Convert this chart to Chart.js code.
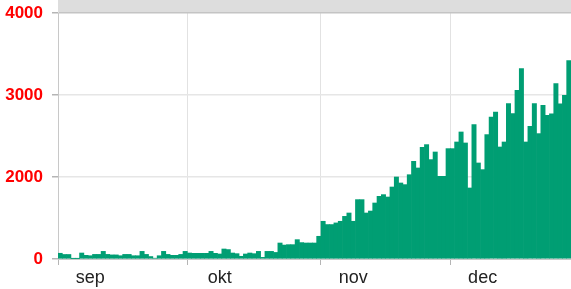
<!DOCTYPE html>
<html lang="da">
<head>
	<meta charset="UTF-8">
	<title>Daglige tal</title>
	<style>
		body { margin: 0; background: #fff; }
		canvas { display: block; }
	</style>
</head>
<body>
	<canvas id="myChart" width="571" height="289"></canvas>

	<script src="https://cdn.jsdelivr.net/npm/chart.js@4"></script>
	<script>
		// one bar per day, 1 sep - 28 dec
		var monthNames = ['sep', 'okt', 'nov', 'dec'];
		var monthDays = [30, 31, 30, 28];
		var monthStart = [0, 30, 61, 91];   // index of the 1st of each month
		var monthLabelAt = [7, 37, 68, 98]; // month name sits under the 8th

		var yTickLabels = ['0', '2000', '3000', '4000'];

		var sepValues = [70, 55, 55, 5, 5, 73, 45, 40, 56, 56, 93, 56, 50, 50, 40,
			56, 56, 40, 40, 93, 56, 30, 10, 40, 93, 56, 45, 45, 56, 93];
		var oktValues = [73, 69, 69, 69, 69, 93, 69, 61, 122, 115, 73, 65, 33, 61, 73,
			65, 93, 20, 93, 93, 80, 195, 170, 175, 175, 236, 200, 195, 195, 195, 277];
		var novValues = [460, 420, 420, 440, 460, 520, 561, 460, 724, 724, 561, 585, 683, 764, 785,
			756, 878, 1000, 927, 907, 1028, 1191, 1110, 1362, 1395, 1212, 1305, 1008, 1008, 1346];
		var decValues = [1346, 1427, 1549, 1415, 866, 1638, 1171, 1090, 1517, 1732, 1793, 1366, 1427, 1894,
			1773, 2057, 2322, 1427, 1618, 1895, 1529, 1875, 1753, 1769, 2139, 1891, 1997, 2420];

		var labels = [];
		monthNames.forEach(function(m, k) {
			for (var d = 1; d <= monthDays[k]; d++) labels.push(d + ' ' + m);
		});
		var values = sepValues.concat(oktValues, novValues, decValues);

		var fontFamily = "'Liberation Sans', Arial, sans-serif";

		// grey strip above the plot area
		var topBand = {
			id: 'topBand',
			beforeDraw: function(chart) {
				var a = chart.chartArea;
				var ctx = chart.ctx;
				ctx.save();
				ctx.fillStyle = '#dddddd';
				ctx.fillRect(a.left, 0, a.right - a.left, a.top);
				ctx.restore();
			}
		};

		var ctx = document.getElementById('myChart').getContext('2d');
		var myChart = new Chart(ctx, {
			type: 'bar',
			data: {
				labels: labels,
				datasets: [{
					data: values,
					backgroundColor: '#009E73',
					borderWidth: 0,
					barPercentage: 1,
					categoryPercentage: 1
				}]
			},
			options: {
				responsive: false,
				animation: false,
				layout: { padding: { top: 13, right: 0, bottom: 0, left: 0 } },
				plugins: {
					legend: { display: false },
					tooltip: { enabled: false }
				},
				scales: {
					x: {
						offset: true,
						grid: {
							offset: true,
							lineWidth: 1,
							tickLength: 6,
							color: function(c) { return monthStart.indexOf(c.index) >= 0 ? '#e2e2e2' : 'transparent'; },
							tickColor: function(c) { return monthStart.indexOf(c.index) >= 0 ? '#b5b5b5' : 'transparent'; }
						},
						border: { color: '#c8c8c8' },
						ticks: {
							autoSkip: false,
							maxRotation: 0,
							minRotation: 0,
							padding: 2,
							color: '#222',
							font: { family: fontFamily, size: 18 },
							callback: function(v, i) {
								var k = monthLabelAt.indexOf(i);
								return k >= 0 ? monthNames[k] : '';
							}
						},
						afterFit: function(s) { s.height = 30; }
					},
					y: {
						min: 0,
						max: 3000,
						grid: {
							lineWidth: 1.5,
							tickLength: 6,
							color: function(c) { return c.index === 3 ? '#c4c4c4' : '#e6e6e6'; },
							tickColor: '#b5b5b5'
						},
						border: { color: '#c8c8c8' },
						ticks: {
							stepSize: 1000,
							padding: 9,
							color: '#ff0000',
							font: { family: fontFamily, size: 17, weight: 'bold' },
							callback: function(v, i) { return yTickLabels[i]; }
						},
						afterFit: function(s) {
							s.width = 58;
							s.paddingTop = 0;
							s.paddingBottom = 0;
						}
					}
				}
			},
			plugins: [topBand]
		});
	</script>
</body>
</html>
